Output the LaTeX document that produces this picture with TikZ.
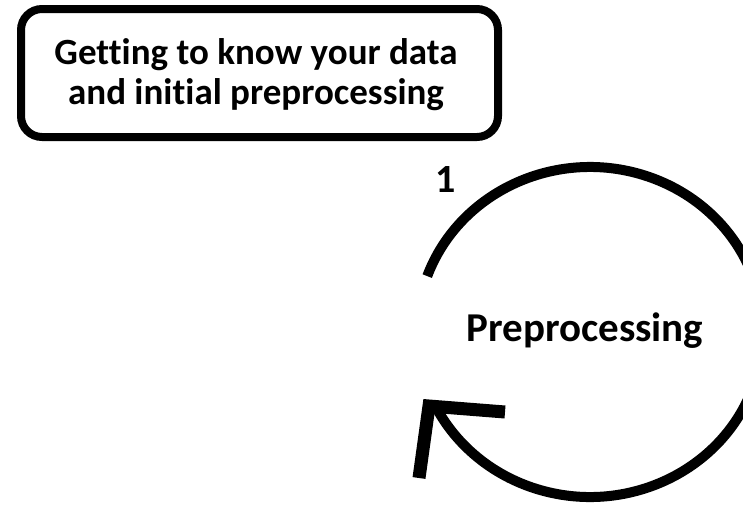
\documentclass[tikz,border=0pt]{standalone}
\usepackage{fontspec}
\setmainfont{Carlito}[Ligatures=NoCommon]
\begin{document}
\begin{tikzpicture}[x=1pt,y=1pt,
  titlebox/.style={draw=black, line width=8pt, rounded corners=21pt,
    minimum width=477pt, minimum height=128pt, align=center, inner sep=0pt,
    font=\bfseries\fontsize{37}{40}\selectfont},
  steplabel/.style={inner sep=0pt, font=\bfseries\fontsize{40}{44}\selectfont},
  centrelabel/.style={inner sep=0pt, font=\bfseries\fontsize{41}{46}\selectfont},
  cyclearc/.style={line width=10pt},
  cyclehead/.style={line width=13pt, line join=miter}]
\useasboundingbox (0,0) rectangle (743,-506);
\clip (0,0) rectangle (743,-506);

% title box
\node[titlebox] (intro) at (259.5,-73) {};
\node[font=\bfseries\fontsize{37}{40}\selectfont, align=center, inner sep=0pt]
  (introtext) at (256,-75) {Getting to know your data\\and initial preprocessing};

% labels
\node[steplabel] (stepone) at (446,-180) {1};
\node[centrelabel] (pre) at (585,-331) {Preprocessing};

% circular arrow around the label
\coordinate (ctr) at (590,-332);
\draw[cyclearc] (ctr) ++(160.2:173 and 165)
  arc[start angle=160.2, end angle=-153.6, x radius=173, y radius=165];
\coordinate (tipA) at (505,-412);
\coordinate (tipC) at (429,-406);
\coordinate (tipB) at (419,-478);
\draw[cyclehead] (tipA) -- (tipC) -- (tipB);
\end{tikzpicture}
\end{document}
